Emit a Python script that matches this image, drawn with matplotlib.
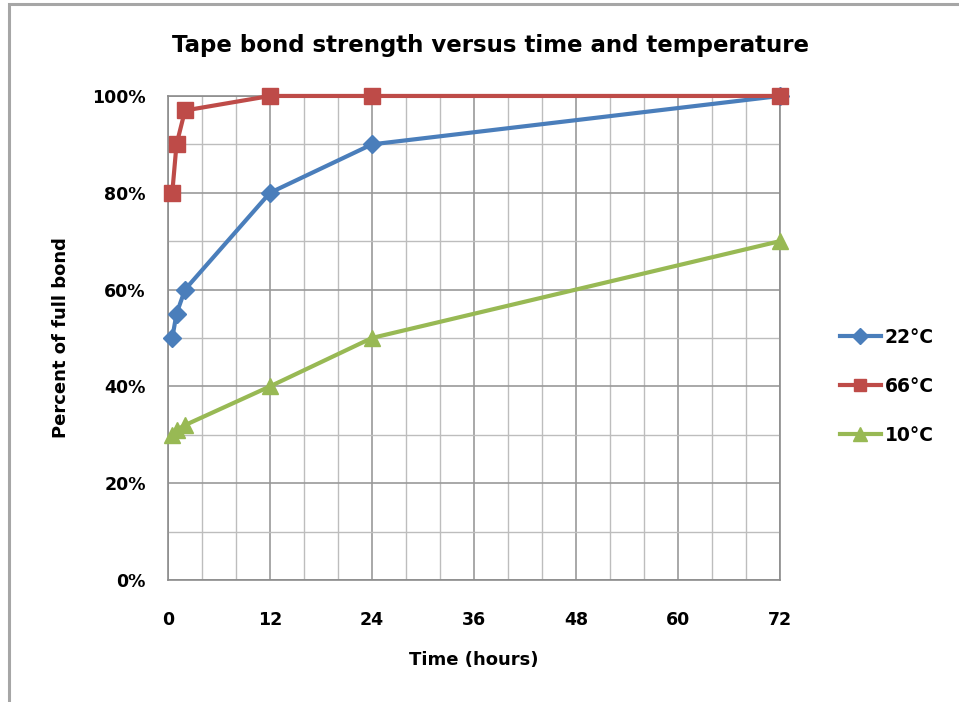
import numpy as np
import matplotlib
matplotlib.use("Agg")
import matplotlib.pyplot as plt
from matplotlib.patches import Rectangle
from matplotlib.ticker import MultipleLocator, FuncFormatter

plt.rcParams['font.family'] = ['DejaVu Sans']
plt.rcParams['font.weight'] = 'bold'

# data
hours = [0.5, 1, 2, 12, 24, 72]
bond_22 = [50, 55, 60, 80, 90, 100]
bond_66 = [80, 90, 97, 100, 100, 100]
bond_10 = [30, 31, 32, 40, 50, 70]
series_labels = ['22°C', '66°C', '10°C']

fig = plt.figure(figsize=(9.59, 7.02), dpi=100)

# outer chart border (only left and top visible)
fig.patches.append(Rectangle((0.0099, -0.1), 1.2, 1.095, transform=fig.transFigure,
                             fill=False, edgecolor='#a6a6a6', linewidth=2.2))

ax = fig.add_axes([0.1752, 0.1738, 0.638, 0.6895])

ax.plot(hours, bond_22, color='#4a7ebb', lw=3, marker='D', ms=9, label=series_labels[0],
        zorder=3, clip_on=False)
ax.plot(hours, bond_66, color='#be4b48', lw=3, marker='s', ms=11, label=series_labels[1],
        zorder=3, clip_on=False)
ax.plot(hours, bond_10, color='#98b954', lw=3, marker='^', ms=12, label=series_labels[2],
        zorder=3, clip_on=False)

ax.set_xlim(0, 72)
ax.set_ylim(0, 100)
ax.xaxis.set_major_locator(MultipleLocator(12))
ax.xaxis.set_minor_locator(MultipleLocator(4))
ax.yaxis.set_major_locator(MultipleLocator(20))
ax.yaxis.set_minor_locator(MultipleLocator(10))
ax.yaxis.set_major_formatter(FuncFormatter(lambda v, p: '%d%%' % v))

ax.grid(which='major', color='#999999', lw=1.2)
ax.grid(which='minor', color='#bdbdbd', lw=1.0)
ax.set_axisbelow(True)
for s in ax.spines.values():
  s.set_color('#8c8c8c')
  s.set_linewidth(1.2)

ax.tick_params(which='both', length=0)
ax.tick_params(axis='x', pad=22, labelsize=12.5)
ax.tick_params(axis='y', pad=16, labelsize=12.5)
for lab in ax.get_xticklabels() + ax.get_yticklabels():
  lab.set_fontweight('bold')

ax.set_xlabel('Time (hours)', fontsize=13, fontweight='bold', labelpad=16)
ax.set_ylabel('Percent of full bond', fontsize=13, fontweight='bold', labelpad=16)
fig.text(0.511, 0.935, 'Tape bond strength versus time and temperature',
         ha='center', va='center', fontsize=16.5, fontweight='bold')

ax.legend(loc='center left', bbox_to_anchor=(1.07, 0.4), frameon=False,
          fontsize=13.5, handlelength=2.2, handletextpad=0.2, labelspacing=1.6,
          markerscale=0.85)

fig.savefig('out.png', dpi=100)
